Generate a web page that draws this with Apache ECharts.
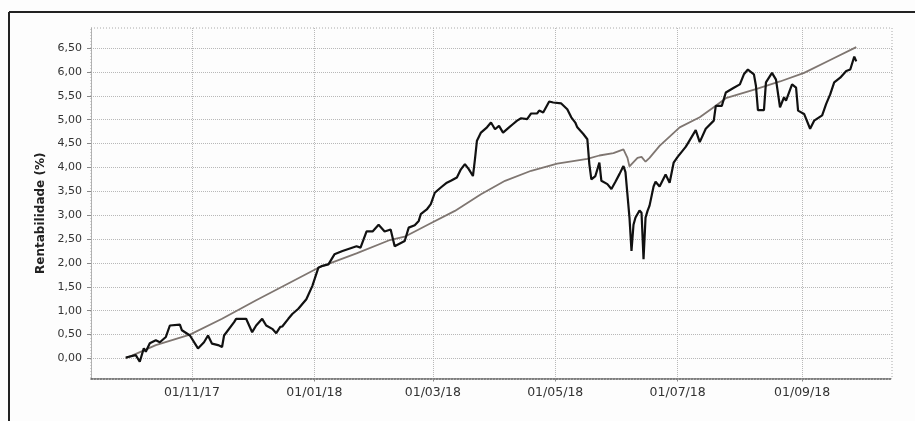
<!DOCTYPE html>
<html>
<head>
<meta charset="utf-8">
<script src="https://cdn.jsdelivr.net/npm/echarts@6/dist/echarts.min.js"></script>
<style>
html,body{margin:0;padding:0;background:#fdfdfd;}
#chart{width:915px;height:421px;}
</style>
</head>
<body>
<div id="chart"></div>
<script>
// Fund (black line)
const fundDates = [
 '2017-09-29','2017-10-04','2017-10-06','2017-10-08','2017-10-09','2017-10-11','2017-10-14','2017-10-16','2017-10-19','2017-10-21',
 '2017-10-26','2017-10-27','2017-10-31','2017-11-04','2017-11-07','2017-11-09','2017-11-11','2017-11-14','2017-11-16','2017-11-17',
 '2017-11-22','2017-11-23','2017-11-28','2017-12-01','2017-12-03','2017-12-06','2017-12-08','2017-12-11','2017-12-13','2017-12-15',
 '2017-12-16','2017-12-19','2017-12-21','2017-12-24','2017-12-28','2017-12-31','2018-01-03','2018-01-05','2018-01-08','2018-01-11',
 '2018-01-15','2018-01-22','2018-01-24','2018-01-27','2018-01-30','2018-02-02','2018-02-05','2018-02-08','2018-02-10','2018-02-15',
 '2018-02-17','2018-02-20','2018-02-22','2018-02-23','2018-02-26','2018-02-28','2018-03-02','2018-03-05','2018-03-08','2018-03-10',
 '2018-03-13','2018-03-15','2018-03-17','2018-03-19','2018-03-21','2018-03-22','2018-03-23','2018-03-25','2018-03-28','2018-03-30',
 '2018-04-01','2018-04-03','2018-04-05','2018-04-08','2018-04-10','2018-04-12','2018-04-14','2018-04-17','2018-04-19','2018-04-22',
 '2018-04-23','2018-04-25','2018-04-28','2018-04-30','2018-05-04','2018-05-07','2018-05-09','2018-05-11','2018-05-12','2018-05-15',
 '2018-05-17','2018-05-18','2018-05-19','2018-05-21','2018-05-23','2018-05-24','2018-05-27','2018-05-29','2018-05-31','2018-06-02',
 '2018-06-04','2018-06-05','2018-06-07','2018-06-08','2018-06-09','2018-06-10','2018-06-12','2018-06-13','2018-06-14','2018-06-15',
 '2018-06-16','2018-06-17','2018-06-19','2018-06-20','2018-06-22','2018-06-25','2018-06-27','2018-06-29','2018-07-01','2018-07-05',
 '2018-07-06','2018-07-10','2018-07-12','2018-07-15','2018-07-19','2018-07-20','2018-07-23','2018-07-25','2018-07-29','2018-08-01',
 '2018-08-03','2018-08-05','2018-08-08','2018-08-09','2018-08-10','2018-08-13','2018-08-14','2018-08-17','2018-08-19','2018-08-21',
 '2018-08-23','2018-08-24','2018-08-27','2018-08-29','2018-08-30','2018-09-02','2018-09-05','2018-09-07','2018-09-11','2018-09-13',
 '2018-09-15','2018-09-17','2018-09-20','2018-09-23','2018-09-25','2018-09-27','2018-09-28'
];
const fundValues = [
 0.02,0.07,-0.07,0.21,0.14,0.32,0.38,0.34,0.45,0.69,
 0.71,0.59,0.48,0.21,0.34,0.48,0.31,0.28,0.24,0.48,
 0.76,0.83,0.83,0.55,0.69,0.83,0.69,0.62,0.53,0.66,
 0.67,0.83,0.93,1.04,1.24,1.52,1.90,1.94,1.97,2.18,
 2.25,2.35,2.32,2.66,2.66,2.80,2.66,2.70,2.35,2.46,
 2.74,2.79,2.88,3.02,3.12,3.23,3.47,3.58,3.68,3.72,
 3.79,3.96,4.07,3.96,3.82,4.17,4.56,4.73,4.84,4.94,
 4.80,4.87,4.73,4.84,4.91,4.98,5.03,5.01,5.13,5.13,
 5.19,5.15,5.38,5.36,5.34,5.22,5.05,4.94,4.84,4.70,
 4.59,4.07,3.75,3.82,4.10,3.72,3.65,3.55,3.70,3.86,
 4.03,3.90,2.95,2.25,2.80,2.95,3.10,3.05,2.08,2.95,
 3.09,3.20,3.60,3.70,3.60,3.85,3.68,4.10,4.22,4.43,
 4.50,4.78,4.53,4.81,4.98,5.29,5.29,5.57,5.67,5.74,
 5.95,6.05,5.95,5.71,5.20,5.20,5.78,5.98,5.84,5.26,
 5.47,5.40,5.74,5.67,5.19,5.12,4.81,4.98,5.09,5.33,
 5.53,5.78,5.88,6.02,6.05,6.32,6.22
];
// Benchmark (grey line)
const benchDates = [
 '2017-09-29','2017-10-14','2017-10-31','2017-11-16','2017-12-03','2017-12-19','2018-01-03','2018-01-22','2018-02-07','2018-02-15',
 '2018-02-27','2018-03-12','2018-03-25','2018-04-06','2018-04-19','2018-05-02','2018-05-17','2018-05-23','2018-05-30','2018-06-04',
 '2018-06-06','2018-06-07','2018-06-11','2018-06-13','2018-06-15','2018-06-17','2018-06-22','2018-07-02','2018-07-12','2018-07-20',
 '2018-07-25','2018-08-09','2018-08-21','2018-09-02','2018-09-15','2018-09-28'
];
const benchValues = [
 0.00,0.28,0.50,0.83,1.22,1.57,1.90,2.20,2.47,2.55,
 2.81,3.09,3.44,3.72,3.93,4.08,4.18,4.25,4.30,4.38,
 4.20,4.02,4.20,4.22,4.12,4.20,4.45,4.84,5.05,5.29,
 5.45,5.64,5.80,5.98,6.25,6.52
];
const yTicks = [0,0.5,1,1.5,2,2.5,3,3.5,4,4.5,5,5.5,6,6.5];
const xTicks = ['2017-11-01','2018-01-01','2018-03-01','2018-05-01','2018-07-01','2018-09-01'];
const yTitle = 'Rentabilidade (%)';

const toTs = s => new Date(s + 'T00:00:00Z').getTime();
const DAY = 86400000;
const xMin = toTs('2017-11-01') - 50.3 * DAY;
const xMax = toTs('2017-11-01') + 348.8 * DAY;
const pad = n => (n < 10 ? '0' : '') + n;
const fmtDate = v => { const d = new Date(v); return pad(d.getUTCDate()) + '/' + pad(d.getUTCMonth() + 1) + '/' + pad(d.getUTCFullYear() % 100); };

const chart = echarts.init(document.getElementById('chart'), null, {renderer: 'canvas'});
const FONT = 'DejaVu Sans';
chart.setOption({
  animation: false,
  backgroundColor: '#fdfdfd',
  grid: {left: 91, right: 23, top: 28, bottom: 42.5, containLabel: false},
  xAxis: {
    type: 'value', scale: true,
    min: xMin, max: xMax,
    axisLine: {show: true, onZero: false, lineStyle: {color: '#555', width: 1.5, type: 'dotted'}},
    axisTick: {show: true, customValues: xTicks.map(toTs), length: 3, lineStyle: {color: '#888'}},
    axisLabel: {customValues: xTicks.map(toTs), formatter: v => fmtDate(v), color: '#333', fontFamily: FONT, fontSize: 12.5, margin: 8, showMinLabel: true, showMaxLabel: true},
    splitLine: {show: true, lineStyle: {color: '#b8b8b8', type: 'dotted', width: 1}}
  },
  yAxis: {
    type: 'value', min: -0.42, max: 6.92,
    name: yTitle, nameLocation: 'middle', nameGap: 42, nameRotate: 90,
    nameTextStyle: {fontFamily: FONT, fontSize: 12, fontWeight: 'bold', color: '#222', padding: [0, 20, 0, 0]},
    axisLine: {show: true, onZero: false, lineStyle: {color: '#aaa', type: 'dotted'}},
    axisTick: {show: true, customValues: yTicks, length: 4, lineStyle: {color: '#888'}},
    axisLabel: {customValues: yTicks, formatter: v => v.toFixed(2).replace('.', ','), color: '#333', fontFamily: FONT, fontSize: 11, margin: 9},
    splitLine: {show: true, lineStyle: {color: '#b8b8b8', type: 'dotted', width: 1}}
  },
  graphic: [
    {type: 'rect', shape: {x: 91, y: 28, width: 801, height: 350.5}, style: {fill: null, stroke: '#aaa', lineWidth: 1, lineDash: [1, 2]}, silent: true, z: 0},
    {type: 'line', shape: {x1: 9, y1: 12, x2: 915, y2: 12}, style: {stroke: '#222', lineWidth: 2}, silent: true},
    {type: 'line', shape: {x1: 9, y1: 12, x2: 9, y2: 421}, style: {stroke: '#222', lineWidth: 2}, silent: true}
  ],
  series: [
    {
      name: 'Benchmark', type: 'line', showSymbol: false, z: 2,
      data: benchDates.map((d, i) => [toTs(d), benchValues[i]]),
      lineStyle: {color: '#7f7671', width: 1.8}
    },
    {
      name: 'Fundo', type: 'line', showSymbol: false, z: 3,
      data: fundDates.map((d, i) => [toTs(d), fundValues[i]]),
      lineStyle: {color: '#111', width: 2.2}
    }
  ]
});
</script>
</body>
</html>
